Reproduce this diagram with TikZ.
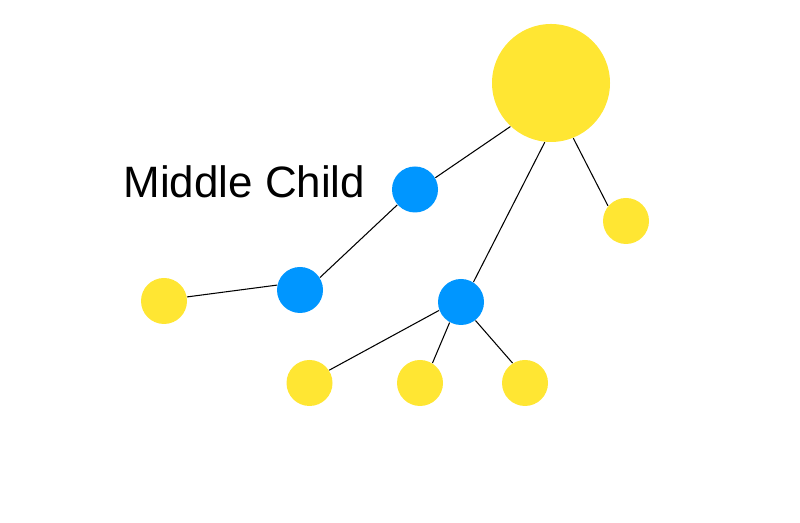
\documentclass[tikz,border=0pt]{standalone}
\usepackage{fontspec}
\setsansfont{Liberation Sans}
\usepackage{tikz}
\definecolor{sunyellow}{HTML}{FFE633}
\definecolor{skyblue}{HTML}{0096FF}
\begin{document}
\begin{tikzpicture}[line width=0.6pt,leaf node/.style={circle,fill=sunyellow,inner sep=0pt,minimum size=0.92cm},mid node/.style={circle,fill=skyblue,inner sep=0pt,minimum size=0.92cm}]
	\useasboundingbox (0,0) rectangle (16,10.46);
	\node[leaf node,minimum size=2.36cm] (root) at (11.02,8.80) {};
	\node[mid node] (b1) at (8.30,6.67) {};
	\node[mid node] (b2) at (6.00,4.66) {};
	\node[mid node] (b3) at (9.22,4.42) {};
	\node[leaf node] (y1) at (3.28,4.44) {};
	\node[leaf node] (y2) at (12.52,6.04) {};
	\node[leaf node] (y3) at (6.19,2.80) {};
	\node[leaf node] (y4) at (8.40,2.80) {};
	\node[leaf node] (y5) at (10.50,2.80) {};
	\node[anchor=base west,inner sep=0pt,font=\sffamily\fontsize{25}{30}\selectfont] (label) at (2.46,6.50) {Middle Child};
	
	\path
		(root.227)	edge (b1.30)
		(root.264)	edge (b3.58)
		(root.292)	edge (y2.140)
		(b1.221)	edge (b2.32)
		(b2.168)	edge (y1.10)
		(b3.201)	edge (y3.33)
		(b3.241)	edge (y4.58)
		(b3.308)	edge (y5.122);
\end{tikzpicture}
\end{document}
